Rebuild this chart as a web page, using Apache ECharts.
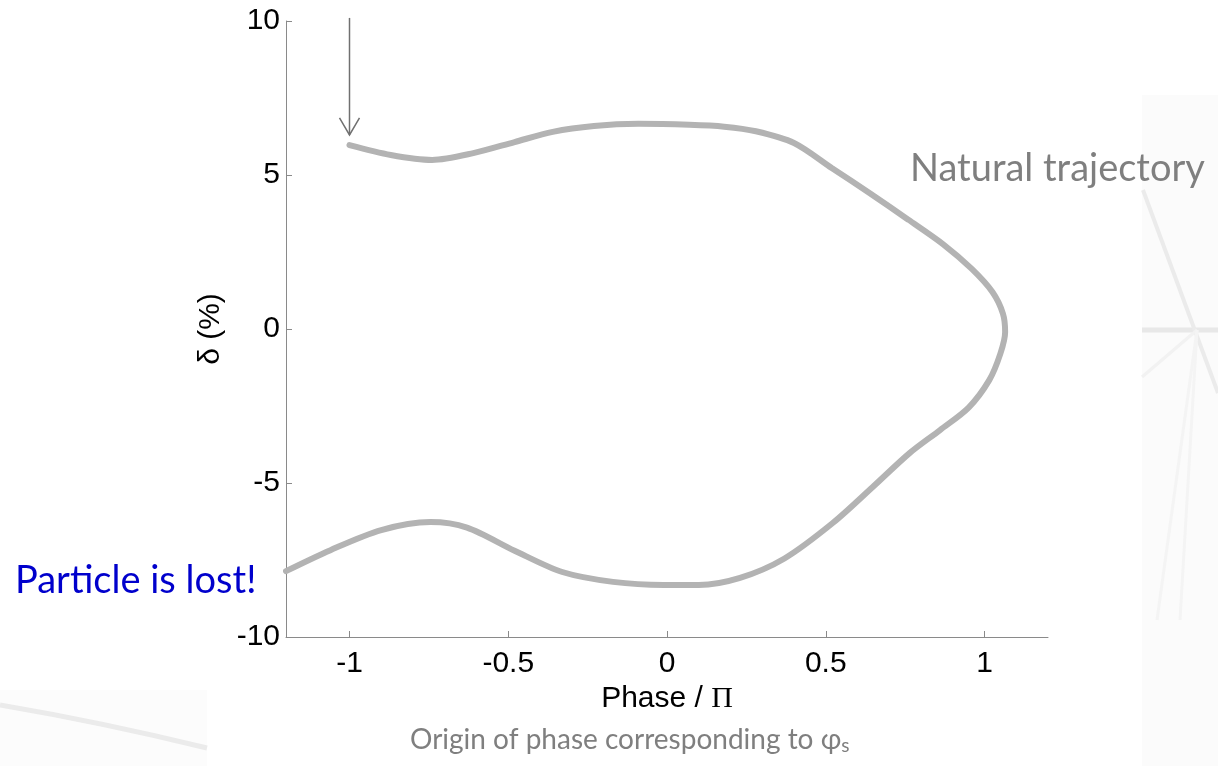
<!DOCTYPE html>
<html>
<head>
<meta charset="utf-8">
<script src="https://cdn.jsdelivr.net/npm/echarts@6.0.0/dist/echarts.min.js"></script>
<style>
  html, body { margin: 0; padding: 0; background: #fff; }
  #chart { width: 1218px; height: 766px; }
</style>
</head>
<body>
<div id="chart"></div>
<script>
// Trajectory in phase space, traced in order from the arrow start
const phase = [-1.0, -0.87, -0.74, -0.61, -0.48, -0.36, -0.23, -0.09, 0.07, 0.18, 0.28, 0.40,
  0.52, 0.64, 0.76, 0.87, 0.96, 1.025, 1.058, 1.065, 1.05, 1.015, 0.95, 0.86, 0.764, 0.648,
  0.522, 0.37, 0.23, 0.10, -0.01, -0.17, -0.33, -0.48, -0.63, -0.745, -0.90, -1.06, -1.2];
const delta = [5.97, 5.65, 5.49, 5.71, 6.07, 6.40, 6.59, 6.66, 6.63, 6.57, 6.42, 6.04,
  5.22, 4.40, 3.55, 2.75, 1.95, 1.20, 0.50, -0.10, -0.80, -1.66, -2.55, -3.28, -4.03, -5.13,
  -6.30, -7.45, -8.08, -8.31, -8.31, -8.21, -7.89, -7.20, -6.45, -6.27, -6.53, -7.18, -7.86];

const xTicks = [-1, -0.5, 0, 0.5, 1];
const arrowFrom = [-1, 10.1];
const arrowTo = [-1, 6.3];

const chart = echarts.init(document.getElementById('chart'));

const axisFont = 'Liberation Sans, Arial, sans-serif';
const slideFont = 'Lato, "Open Sans", sans-serif';

chart.setOption({
    backgroundColor: '#ffffff',
    animation: false,
    grid: { left: 286, right: 170, top: 21, bottom: 129 },
    xAxis: {
        type: 'value',
        min: -1.2,
        max: 1.2,
        splitLine: { show: false },
        axisLine: { onZero: false, lineStyle: { color: '#8a8a8a', width: 1 } },
        axisTick: { inside: true, length: 6, customValues: xTicks, lineStyle: { color: '#8a8a8a' } },
        axisLabel: { customValues: xTicks, color: '#000', fontFamily: axisFont, fontSize: 30, margin: 12 },
        name: '{a|Phase / }{b|Π}',
        nameLocation: 'middle',
        nameGap: 44,
        nameTextStyle: {
            rich: {
                a: { fontFamily: axisFont, fontSize: 30, color: '#000' },
                b: { fontFamily: 'Liberation Serif, Times New Roman, serif', fontSize: 30, color: '#000' }
            }
        }
    },
    yAxis: {
        type: 'value',
        min: -10,
        max: 10,
        interval: 5,
        splitLine: { show: false },
        axisLine: { show: true, onZero: false, lineStyle: { color: '#8a8a8a', width: 1 } },
        axisTick: { show: true, inside: true, length: 6, lineStyle: { color: '#8a8a8a' } },
        axisLabel: { color: '#000', fontFamily: axisFont, fontSize: 30, margin: 6 },
        name: 'δ (%)',
        nameLocation: 'middle',
        nameGap: 58,
        nameTextStyle: { fontFamily: axisFont, fontSize: 30, color: '#000' }
    },
    series: [{
        type: 'line',
        data: phase.map((p, i) => [p, delta[i]]),
        smooth: 0.3,
        showSymbol: false,
        clip: true,
        lineStyle: { color: '#b3b3b3', width: 6, cap: 'round' }
    }]
});

// annotations positioned through the chart's own scales
const arrowTop = chart.convertToPixel({ gridIndex: 0 }, arrowFrom);
const arrowTip = chart.convertToPixel({ gridIndex: 0 }, arrowTo);

chart.setOption({
    graphic: [
        // faint slide background decorations
        { type: 'rect', silent: true, z: -10, shape: { x: 1142, y: 95, width: 80, height: 680 }, style: { fill: '#fbfbfb' } },
        { type: 'line', silent: true, z: -9, shape: { x1: 1142, y1: 330, x2: 1218, y2: 330 }, style: { stroke: '#e8e8e8', lineWidth: 5 } },
        { type: 'line', silent: true, z: -9, shape: { x1: 1143, y1: 190, x2: 1218, y2: 393 }, style: { stroke: '#ebebeb', lineWidth: 4 } },
        { type: 'line', silent: true, z: -9, shape: { x1: 1197, y1: 330, x2: 1142, y2: 377 }, style: { stroke: '#f2f2f2', lineWidth: 3 } },
        { type: 'line', silent: true, z: -9, shape: { x1: 1197, y1: 330, x2: 1157, y2: 620 }, style: { stroke: '#f4f4f4', lineWidth: 3 } },
        { type: 'line', silent: true, z: -9, shape: { x1: 1197, y1: 330, x2: 1180, y2: 620 }, style: { stroke: '#f4f4f4', lineWidth: 3 } },
        { type: 'rect', silent: true, z: -10, shape: { x: 0, y: 690, width: 207, height: 76 }, style: { fill: '#fcfcfc' } },
        { type: 'bezierCurve', silent: true, z: -9, shape: { x1: 0, y1: 705, x2: 207, y2: 748, cpx1: 100, cpy1: 722 }, style: { stroke: '#ebebeb', lineWidth: 5, fill: 'none' } },

        // arrow pointing at the start of the trajectory
        { type: 'line', shape: { x1: arrowTop[0], y1: arrowTop[1], x2: arrowTip[0], y2: arrowTip[1] }, style: { stroke: '#707070', lineWidth: 1.5 } },
        { type: 'polyline', shape: { points: [[arrowTip[0] - 10, arrowTip[1] - 17], [arrowTip[0], arrowTip[1]], [arrowTip[0] + 10, arrowTip[1] - 17]] }, style: { stroke: '#707070', lineWidth: 1.5, fill: 'none' } },

        { type: 'text', left: 910, top: 150, style: { text: 'Natural trajectory', font: '38px ' + slideFont, fill: '#7f7f7f' } },
        { type: 'text', left: 15, top: 562, style: { text: 'Particle is lost!', font: '38px ' + slideFont, fill: '#0000cc' } },
        {
            type: 'text', left: 410, top: 726,
            style: {
                text: '{a|Origin of phase corresponding to φ}{s|s}',
                rich: {
                    a: { fontFamily: slideFont, fontSize: 28, fill: '#7f7f7f', color: '#7f7f7f' },
                    s: { fontFamily: slideFont, fontSize: 19, fill: '#7f7f7f', color: '#7f7f7f', padding: [12, 0, 0, 0] }
                }
            }
        }
    ]
});
</script>
</body>
</html>
